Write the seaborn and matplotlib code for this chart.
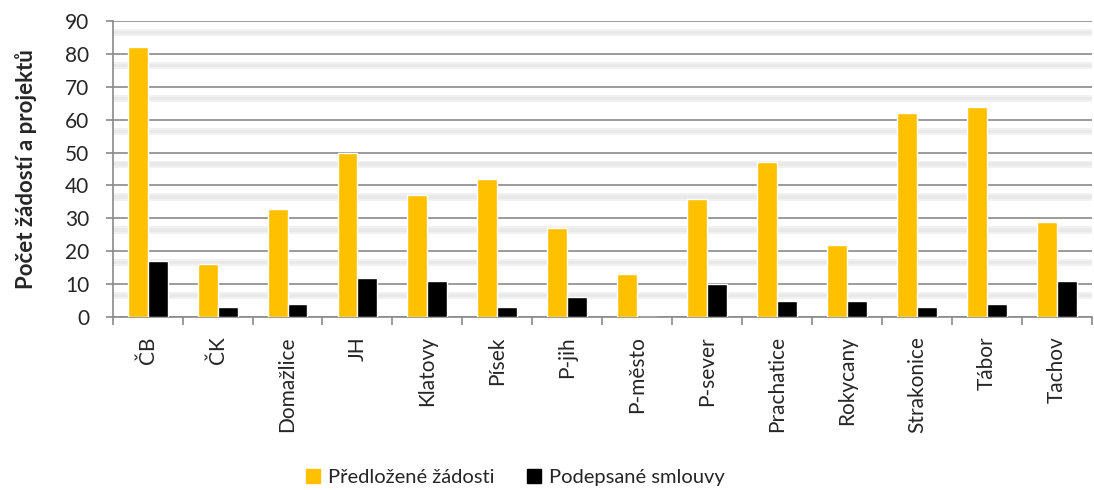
import matplotlib
matplotlib.use("Agg")
import matplotlib.pyplot as plt
import seaborn as sns
import pandas as pd
import numpy as np

categories = ["ČB", "ČK", "Domažlice", "JH", "Klatovy", "Písek", "P-jih", "P-město",
              "P-sever", "Prachatice", "Rokycany", "Strakonice", "Tábor", "Tachov"]
predlozene = [82, 16, 33, 50, 37, 42, 27, 13, 36, 47, 22, 62, 64, 29]
podepsane = [17, 3, 4, 12, 11, 3, 6, 0, 10, 5, 5, 3, 4, 11]
series_names = ["Předložené žádosti", "Podepsané smlouvy"]
colors = ["#FFC000", "#000000"]
yticks = list(range(0, 91, 10))

sns.set_theme(style="white")
plt.rcParams["font.family"] = ["Lato", "DejaVu Sans"]

df = pd.DataFrame({
    "kategorie": categories * 2,
    "hodnota": predlozene + podepsane,
    "serie": [series_names[0]] * len(categories) + [series_names[1]] * len(categories),
})

fig = plt.figure(figsize=(10.94, 4.9), dpi=100)
ax = fig.add_axes([0.103, 0.353, 0.895, 0.604])

# subtle background stripes below each gridline
for v in yticks[1:]:
    ax.axhspan(v - 4.6, v - 2.4, color="#f1f1f1", zorder=0, lw=0)
    ax.axhspan(v - 4.0, v - 3.0, color="#e9e9e9", zorder=0, lw=0)

sns.barplot(data=df, x="kategorie", y="hodnota", hue="serie", palette=colors,
            width=0.57, gap=0, ax=ax, legend=False, saturation=1, zorder=3)

ax.set_ylim(0, 90)
ax.set_xlim(-0.5, len(categories) - 0.5)
ax.set_yticks(yticks)
ax.yaxis.grid(True, color="#8a8a8a", linewidth=1.2, zorder=1)
ax.set_axisbelow(True)
ax.set_xlabel("")
ax.set_ylabel("Počet žádostí a projektů", fontsize=16, fontweight="bold", labelpad=20)

ax.tick_params(axis="y", labelsize=15, length=5, color="#8a8a8a", left=True, width=1.2, pad=12)
ax.tick_params(axis="x", labelsize=15, length=0, rotation=90, pad=14)
ax.set_xticks(np.arange(-0.5, len(categories), 1.0), minor=True)
ax.tick_params(axis="x", which="minor", length=6, color="#8a8a8a", width=1.2, bottom=True)

for s in ["top", "right"]:
    ax.spines[s].set_visible(False)
for s in ["left", "bottom"]:
    ax.spines[s].set_color("#8a8a8a")
    ax.spines[s].set_linewidth(1.2)

handles = [plt.Rectangle((0, 0), 1, 1, color=c) for c in colors]
fig.legend(handles, series_names, loc="center", bbox_to_anchor=(0.471, 0.025), ncol=2,
           frameon=False, fontsize=14.5, handlelength=0.7, handleheight=0.7,
           handletextpad=0.4, columnspacing=1.6)

fig.savefig("out.png", dpi=100)
